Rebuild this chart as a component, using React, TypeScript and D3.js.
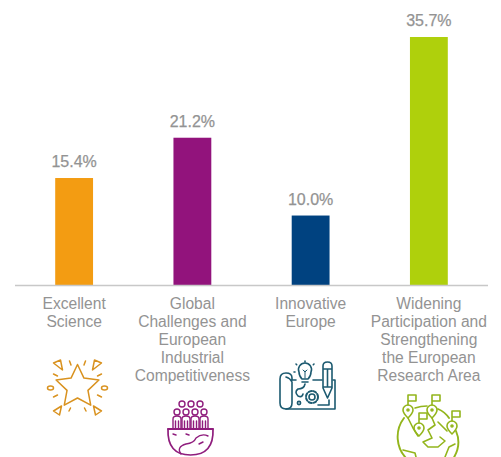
import * as d3 from 'd3';

const categories = ['Excellent Science', 'Global Challenges', 'Innovative Europe', 'Widening Participation'];
const shares = [15.4, 21.2, 10.0, 35.7];
const barColors = ['#f39c12', '#92137c', '#004280', '#afd00c'];
const labelLines = [
  ['Excellent', 'Science'],
  ['Global', 'Challenges and', 'European', 'Industrial', 'Competitiveness'],
  ['Innovative', 'Europe'],
  ['Widening', 'Participation and', 'Strengthening', 'the European', 'Research Area'],
];

const width = 501;
const height = 457;
const baseline = 285;
const GREY = '#939393';

const x = d3.scaleBand<string>().domain(categories).range([15, 488]).paddingInner(0.68).paddingOuter(0.34);
const y = d3.scaleLinear().domain([0, 35.7]).range([baseline, 37]);

function StarIcon() {
  const star = d3.range(10).map(i => {
    const r = i % 2 === 0 ? 22.5 : 11;
    const a = (i * Math.PI) / 5;
    return [r * Math.sin(a), -r * Math.cos(a)] as [number, number];
  });
  return (
    <g transform="translate(77.5,387)" fill="none" stroke="#d9921f" strokeWidth={1.5} strokeLinejoin="round" strokeLinecap="round">
      <path d={d3.line().curve(d3.curveLinearClosed)(star) ?? ''} />
      {[-1, 1].map(sx => (
        <g key={sx} transform={`scale(${sx},1)`}>
          <path d="M24,-24 L17,-27 L15,-17 Z" />
          <path d="M24,24 L16,19 L18,28 Z" />
          <ellipse cx={27} cy={1} rx={3} ry={2} />
          <path d="M8,-26 L6.5,-22 M24,-13 L20,-11 M24,10 L20,8 M7,21 L8.5,24" />
        </g>
      ))}
    </g>
  );
}

function PeopleIcon() {
  const top = [182, 191, 200];
  const lower = [177, 186, 195, 204];
  return (
    <g fill="none" stroke="#8f1d7d" strokeWidth={1.4} strokeLinecap="round" strokeLinejoin="round">
      {top.map(d => <circle key={d} cx={d} cy={404} r={3} />)}
      {lower.map(d => (
        <g key={d}>
          <circle cx={d} cy={412} r={3} />
          <path d={`M${d - 4},428 V419 Q${d - 4},416 ${d},416 Q${d + 4},416 ${d + 4},419 V428 M${d - 1.5},421 V428 M${d + 1.5},421 V428`} />
        </g>
      ))}
      <path d="M168,429 H213" strokeWidth={1.8} />
      <path d="M168,429 Q167,455 190.5,455 Q214,455 213,429" strokeWidth={1.7} />
      <path d="M181,454 Q176,447 186,444 Q194,443 196,438 Q202,433 208,436 M173,434 L176,435 M186,434 L189,435 M199,444 L203,442" />
    </g>
  );
}

function BlueprintIcon() {
  return (
    <g fill="none" stroke="#1c5a70" strokeWidth={1.6} strokeLinecap="round" strokeLinejoin="round">
      <path d="M292,380 V378 Q292,373 286,373 Q280,373 280,379 V403 Q280,409 286,409 Q292,409 292,403 V382 Q290,378 286,377" />
      <path d="M286,409 H335 V380 H333 M292,380 H296 M313,380 H322" />
      <path d="M302,379 Q299,376 299,372 A6.5,6.5 0 1,1 311,372 Q311,376 308,379 Z M302,382 H308" />
      <path d="M305,371 V378 M303,370 L305,372 L307,370" strokeWidth={1} />
      <path d="M305,384 Q304,389 298,389 Q294,392 298,396 Q302,398 303,394" />
      <circle cx={312} cy={397} r={3} />
      <circle cx={312} cy={397} r={6} strokeDasharray="3 1.8" strokeWidth={2} />
      <circle cx={299} cy={403} r={1.6} />
      <path d="M323,366 Q323,362 327.5,362 Q332,362 332,366 V388 L327.5,398 L323,388 Z M323,369 H332 M323,387 H332 M327.5,369 V387" />
      <path d="M318,405 H329 M329,405 V400" />
      <path d="M305,361 V362 M296,364 L297,365 M314,364 L313,365 M294,372 H295" strokeDasharray="1 2" />
    </g>
  );
}

function GlobeIcon() {
  const pins = [[408, 410], [432, 410], [419, 428], [452, 426]];
  return (
    <g fill="none" stroke="#93b51c" strokeWidth={1.6} strokeLinecap="round" strokeLinejoin="round">
      <path d="M404,418 A31,31 0 0,0 407,459" strokeWidth={1.9} />
      <path d="M415,408 Q421,406 427,406" />
      <path d="M438,409 Q445,412 449,418 M456,431 Q462,445 453,459" strokeWidth={1.9} />
      <path d="M432,418 L435,425 L428,430 L432,438 L423,442 L428,447 L438,447 L445,441 L440,437 M408,418 L413,428 L418,436" />
      <path d="M403,450 L415,453 L416,457 M445,457 L449,447 L455,444 M438,422 L447,431" />
      {pins.map(([px, py]) => (
        <g key={px}>
          <path d={`M${px},${py + 8} Q${px - 5},${py + 3} ${px - 5},${py} A5,5 0 1,1 ${px + 5},${py} Q${px + 5},${py + 3} ${px},${py + 8} Z`} />
          <circle cx={px} cy={py} r={1} />
          <path d={`M${px},${py - 5} V${py - 15} H${px + 8} V${py - 9} H${px}`} />
        </g>
      ))}
    </g>
  );
}

export default function App() {
  return (
    <svg
      width={width}
      height={height}
      viewBox={`0 0 ${width} ${height}`}
      style={{ position: 'absolute', left: 0, top: 0, background: '#fff', fontFamily: '"Liberation Sans", Arial, sans-serif' }}
    >
      {categories.map((cat, i) => (
        <g key={cat}>
          <rect x={x(cat)} y={y(shares[i])} width={x.bandwidth()} height={baseline - y(shares[i])} fill={barColors[i]} />
          <text
            x={(x(cat) ?? 0) + x.bandwidth() / 2}
            y={y(shares[i]) - 11}
            textAnchor="middle"
            fontSize={16}
            fill={GREY}
            stroke={GREY}
            strokeWidth={0.25}
          >
            {shares[i].toFixed(1)}%
          </text>
          <text textAnchor="middle" fontSize={15.6} fill={GREY}>
            {labelLines[i].map((line, j) => (
              <tspan key={line} x={(x(cat) ?? 0) + x.bandwidth() / 2} y={309 + j * 18}>
                {line}
              </tspan>
            ))}
          </text>
        </g>
      ))}
      <line x1={15} x2={488} y1={285.5} y2={285.5} stroke="#c8c8c8" strokeWidth={1.5} />
      <StarIcon />
      <PeopleIcon />
      <BlueprintIcon />
      <GlobeIcon />
    </svg>
  );
}
